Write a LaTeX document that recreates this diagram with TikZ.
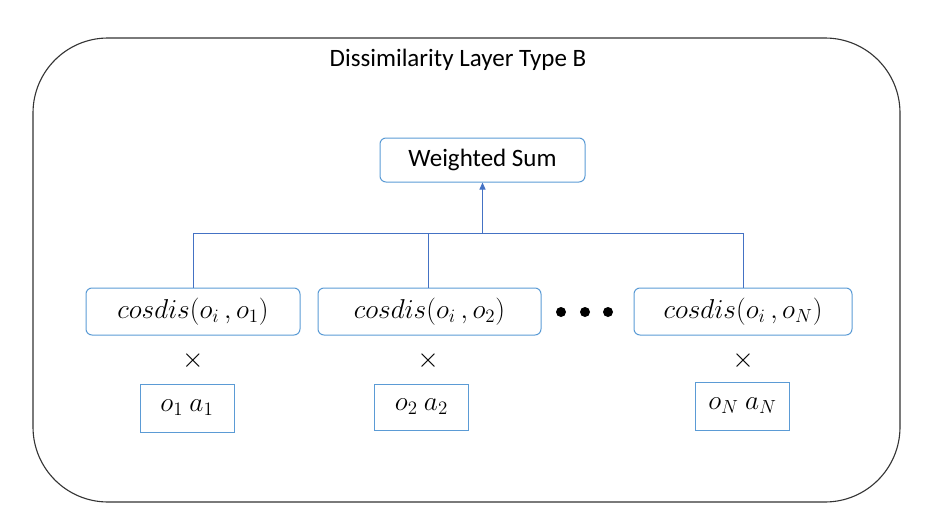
\documentclass[tikz,border=0pt]{standalone}
\usepackage{graphicx}
\usepackage{fontspec}
\setmainfont{Carlito}
\usetikzlibrary{arrows.meta}
\definecolor{boxblue}{HTML}{5B9BD5}
\definecolor{lineblue}{HTML}{4472C4}
\newcommand{\mymath}[1]{\scalebox{1.58}{$#1$}}
\tikzset{
  rbox/.style={draw=boxblue, line width=1pt, rounded corners=6pt, minimum height=47pt, inner sep=0pt, font=\fontsize{17.28}{20}\selectfont},
  sbox/.style={draw=boxblue, line width=1pt, minimum width=94pt, minimum height=48pt, inner sep=0pt, font=\fontsize{17.28}{20}\selectfont},
  conn/.style={draw=lineblue, line width=0.9pt},
  timesmark/.style={font=\fontsize{17.28}{20}\selectfont},
}
\begin{document}
\begin{tikzpicture}[x=1pt,y=-1pt]
\useasboundingbox (0,0) rectangle (930,530);
\draw[line width=1.1pt, draw=black!80, rounded corners=75pt] (33,38) rectangle (900,502);
\node[font=\fontsize{25}{28}\selectfont] (title) at (458,60) {Dissimilarity Layer Type B};
\node[rbox, minimum width=205pt, minimum height=44pt, font=\fontsize{25}{28}\selectfont] (ws) at (482.5,160) {Weighted Sum};
\node[rbox, minimum width=214pt] (c1) at (193,311.5) {\mymath{cosdis(o_i\,,o_1)}};
\node[rbox, minimum width=223pt] (c2) at (429.5,311.5) {\mymath{cosdis(o_i\,,o_2)}};
\node[rbox, minimum width=218pt] (cN) at (743,311.5) {\mymath{cosdis(o_i\,,o_N)}};
\fill (561,312) circle (5pt) coordinate (d1);
\fill (585,312) circle (5pt) coordinate (d2);
\fill (608,312) circle (5pt) coordinate (d3);
\node[timesmark] (x1) at (193,361) {\scalebox{1.6}{$\times$}};
\node[timesmark] (x2) at (428,361) {\scalebox{1.6}{$\times$}};
\node[timesmark] (xN) at (743,361) {\scalebox{1.6}{$\times$}};
\node[sbox] (a1) at (187,408) {\mymath{o_1\ a_1}};
\node[sbox, minimum height=46pt] (a2) at (421.5,407) {\mymath{o_2\ a_2}};
\node[sbox] (aN) at (742.5,406) {\mymath{o_N\ a_N}};
\coordinate (j) at (482.5,233);
\draw[conn] (c1.north) |- (j);
\draw[conn] (cN.north) |- (j);
\draw[conn] (c2.north -| 428,0) -- (428,233);
\draw[conn, -{Triangle[length=7pt,width=6pt]}] (j) -- (ws.south);
\end{tikzpicture}
\end{document}
